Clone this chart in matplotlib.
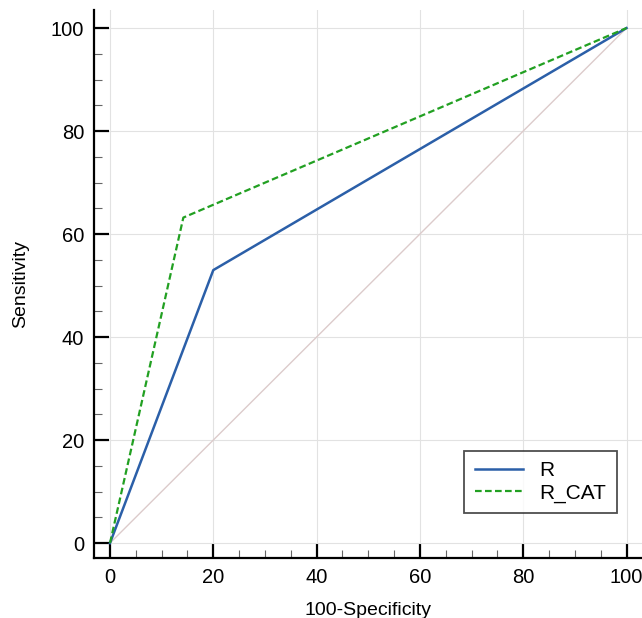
import matplotlib
matplotlib.use("Agg")
import matplotlib.pyplot as plt
from matplotlib.ticker import MultipleLocator

r_x = [0, 20, 100]
r_y = [0, 53, 100]
rcat_x = [0, 14.2, 100]
rcat_y = [0, 63.2, 100]
diag = [0, 100]
series_names = ["R", "R_CAT"]

plt.rcParams['font.family'] = ['Liberation Sans', 'DejaVu Sans']
fig = plt.figure(figsize=(6.42, 6.18), dpi=100)
ax = fig.add_axes([0.1464, 0.0971, 0.8536, 0.8867])

ax.plot(diag, diag, color='#dccbcb', lw=1.0, zorder=2)
ax.plot(r_x, r_y, color='#2b5fa8', lw=1.8, label=series_names[0], zorder=3)
ax.plot(rcat_x, rcat_y, color='#22a022', lw=1.6, ls=(0, (3, 1.5)), label=series_names[1], zorder=4)

ax.set_xlim(-3.1, 103)
ax.set_ylim(-2.9, 103.5)
ax.xaxis.set_major_locator(MultipleLocator(20))
ax.yaxis.set_major_locator(MultipleLocator(20))
ax.xaxis.set_minor_locator(MultipleLocator(5))
ax.yaxis.set_minor_locator(MultipleLocator(5))
ax.grid(True, which='major', color='#e2e2e2', lw=0.8, zorder=0)
for s in ['top', 'right']:
    ax.spines[s].set_visible(False)
for s in ['left', 'bottom']:
    ax.spines[s].set_linewidth(1.6)
ax.tick_params(which='major', direction='in', length=11, width=1.6, labelsize=14.5, pad=7)
ax.tick_params(which='minor', direction='in', length=6, width=0.8, color='#666666')
ax.set_xlabel("100-Specificity", fontsize=14, labelpad=11)
ax.set_ylabel("Sensitivity", fontsize=14, labelpad=16)

leg = ax.legend(loc='lower right', bbox_to_anchor=(0.954, 0.082), fontsize=15,
                frameon=True, fancybox=False, edgecolor='#222222', borderpad=0.5,
                handlelength=2.3, labelspacing=0.15, handletextpad=0.8, borderaxespad=0)
leg.get_frame().set_linewidth(1.3)

fig.savefig("out.png", dpi=100)
